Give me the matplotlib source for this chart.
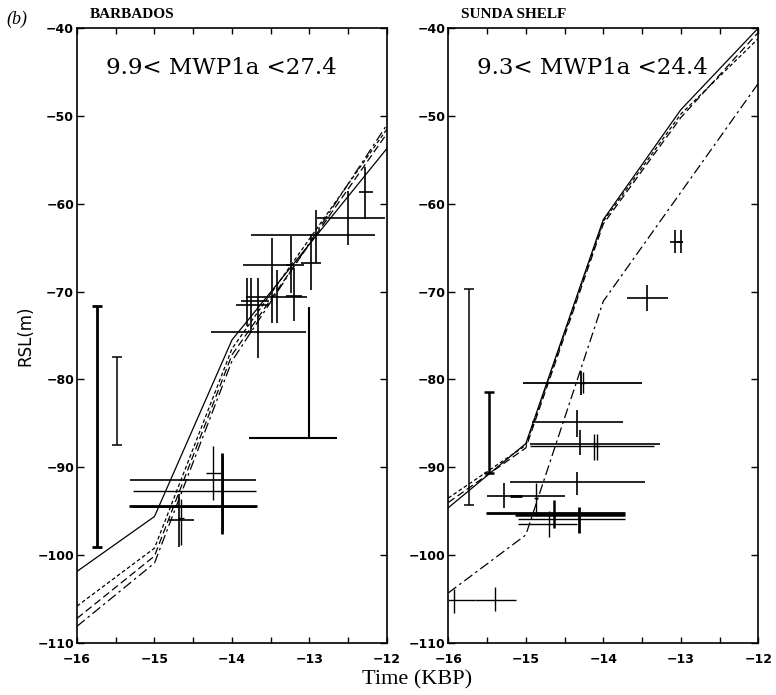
import numpy as np
import matplotlib
matplotlib.use("Agg")
import matplotlib.pyplot as plt
from matplotlib.ticker import MultipleLocator

# model curves (time in kyr BP, RSL in m)
bar_t = [-16, -15, -14, -12]
bar_solid = [-101.85, -95.6, -75.5, -53.7]
bar_sdash = [-105.8, -99.2, -76.5, -51.5]
bar_ldash = [-107.2, -100.1, -77.2, -52.0]
bar_dashdot = [-108.1, -100.9, -77.9, -51.0]

sun_t = [-16, -15, -14, -13, -12]
sun_solid = [-94.6, -87.3, -61.8, -49.3, -40.0]
sun_sdash = [-93.5, -87.5, -62.0, -49.8, -41.2]
sun_ldash = [-94.0, -87.8, -62.3, -50.2, -40.5]
sun_dashdot = [-104.3, -97.7, -71.1, -58.7, -46.3]

# observations: x, y, x-min, x-max, y-min, y-max, line width
bar_obs = [
    (-12.28, -58.7, -12.36, -12.18, -61.7, -55.8, 1.2),
    (-12.50, -61.65, -12.90, -12.02, -64.7, -58.6, 1.2),
    (-12.91, -63.6, -13.76, -12.15, -66.8, -60.7, 1.2),
    (-12.98, -66.8, -13.11, -12.85, -69.8, -63.5, 1.2),
    (-13.48, -66.96, -13.86, -13.07, -73.6, -63.9, 1.2),
    (-13.24, -66.96, -13.30, -13.20, -70.2, -63.7, 1.2),
    (-13.42, -70.65, -13.82, -13.03, -73.6, -67.5, 1.2),
    (-13.20, -70.5, -13.30, -13.10, -73.4, -67.3, 1.2),
    (-13.76, -71.1, -13.88, -13.52, -74.7, -68.5, 1.2),
    (-13.80, -71.5, -13.95, -13.52, -73.9, -68.5, 1.2),
    (-13.67, -74.55, -14.27, -13.05, -77.6, -68.5, 1.2),
    (-13.00, -86.7, -13.78, -12.64, -86.7, -71.7, 1.5),
    (-14.13, -94.4, -15.33, -13.68, -97.6, -88.4, 2.0),
    (-14.11, -94.55, -15.28, -13.69, -97.3, -88.8, 1.2),
    (-14.24, -90.6, -14.33, -14.14, -93.7, -87.6, 1.0),
    (-14.69, -96.0, -14.81, -14.49, -99.1, -93.0, 1.2),
    (-14.66, -95.8, -14.70, -14.62, -98.8, -93.6, 1.0),
    (-14.50, -91.5, -15.31, -13.69, -91.5, -91.5, 1.2),
    (-14.50, -92.75, -15.28, -13.69, -92.75, -92.75, 1.0),
]
sun_obs = [
    (-13.07, -64.3, -13.14, -12.97, -65.6, -63.0, 1.2),
    (-13.00, -64.3, -13.05, -12.97, -65.6, -63.0, 1.2),
    (-13.43, -70.7, -13.70, -13.17, -72.2, -69.2, 1.2),
    (-14.29, -80.35, -15.03, -13.50, -81.75, -79.0, 1.3),
    (-14.26, -80.4, -14.30, -14.24, -81.6, -79.2, 1.0),
    (-14.34, -84.85, -14.92, -13.75, -86.5, -83.5, 1.2),
    (-14.30, -87.3, -14.95, -13.27, -88.6, -85.7, 1.2),
    (-14.12, -87.55, -14.95, -13.35, -89.2, -86.2, 1.0),
    (-14.08, -87.55, -14.12, -14.06, -89.2, -86.2, 1.0),
    (-14.34, -91.7, -15.21, -13.46, -93.1, -90.5, 1.2),
    (-15.28, -93.25, -15.50, -14.50, -94.65, -91.8, 1.2),
    (-15.12, -93.3, -15.20, -15.05, -93.3, -93.3, 2.0),
    (-14.87, -93.5, -14.90, -14.85, -95.6, -91.8, 1.0),
    (-14.32, -95.2, -15.51, -13.72, -97.5, -94.5, 2.0),
    (-14.63, -95.4, -15.14, -13.72, -96.9, -93.7, 1.8),
    (-14.70, -95.9, -15.10, -13.72, -97.9, -95.0, 1.0),
    (-14.34, -96.5, -15.10, -14.34, -96.5, -96.5, 1.0),
    (-15.93, -105.1, -16.00, -15.66, -106.6, -103.9, 1.0),
    (-15.40, -105.1, -15.66, -15.13, -106.4, -103.6, 1.0),
]

# representative error bars: x, y-min, y-max, line width
bar_scale = [(-15.74, -99.1, -71.6, 2.0), (-15.49, -87.5, -77.5, 1.1)]
sun_scale = [(-15.73, -94.3, -69.7, 1.1), (-15.48, -90.7, -81.45, 1.8)]

titles = ["BARBADOS", "SUNDA SHELF"]
labels = ["9.9< MWP1a <27.4", "9.3< MWP1a <24.4"]

fig = plt.figure(figsize=(7.76, 6.95), dpi=100)
ax1 = fig.add_axes([0.0992, 0.0748, 0.3995, 0.8849])
ax2 = fig.add_axes([0.5777, 0.0748, 0.3995, 0.8849])

tickfont = dict(family="DejaVu Sans", weight="bold", size=9)

def draw_panel(ax, t, curves, obs, scale, title, label):
    styles = ["-", (0, (3, 2)), (0, (6, 3)), (0, (8, 3, 2, 3))]
    for c, ls in zip(curves, styles):
        ax.plot(t, c, color="black", lw=0.9, linestyle=ls)
    for x, y, x0, x1, y0, y1, lw in obs:
        ax.errorbar(x, y, xerr=[[x - x0], [x1 - x]], yerr=[[y - y0], [y1 - y]],
                    fmt="none", ecolor="black", elinewidth=lw, capsize=0)
    for x, y0, y1, lw in scale:
        ym = (y0 + y1) / 2
        ax.errorbar(x, ym, yerr=(y1 - y0) / 2, fmt="none", ecolor="black",
                    elinewidth=lw, capsize=3.5, capthick=lw)
    ax.set_xlim(-16, -12)
    ax.set_ylim(-110, -40)
    ax.xaxis.set_major_locator(MultipleLocator(1))
    ax.xaxis.set_minor_locator(MultipleLocator(0.5))
    ax.yaxis.set_major_locator(MultipleLocator(10))
    ax.tick_params(axis="x", which="both", direction="in", top=True, length=4,
                   width=1, pad=7)
    ax.tick_params(axis="y", direction="in", right=True, length=5, width=1, pad=2)
    for lab in ax.get_xticklabels() + ax.get_yticklabels():
        lab.set_fontproperties(tickfont)
    for sp in ax.spines.values():
        sp.set_linewidth(1.2)
    ax.text(0.04, 1.012, title, transform=ax.transAxes, family="Liberation Serif",
            weight="bold", size=11, ha="left", va="bottom")
    ax.text(0.465, 0.935, label, transform=ax.transAxes, family="DejaVu Serif",
            size=16.5, ha="center", va="center")

draw_panel(ax1, bar_t, [bar_solid, bar_sdash, bar_ldash, bar_dashdot],
           bar_obs, bar_scale, titles[0], labels[0])
draw_panel(ax2, sun_t, [sun_solid, sun_sdash, sun_ldash, sun_dashdot],
           sun_obs, sun_scale, titles[1], labels[1])

ax1.set_ylabel("RSL(m)", family="DejaVu Sans", size=12, labelpad=2)
fig.text(0.538, 0.008, "Time (KBP)", family="Liberation Serif", size=16,
         ha="center", va="bottom")
fig.text(0.008, 0.985, "(b)", family="Liberation Serif", style="italic", size=13,
         ha="left", va="top")

fig.savefig("out.png", dpi=100)
